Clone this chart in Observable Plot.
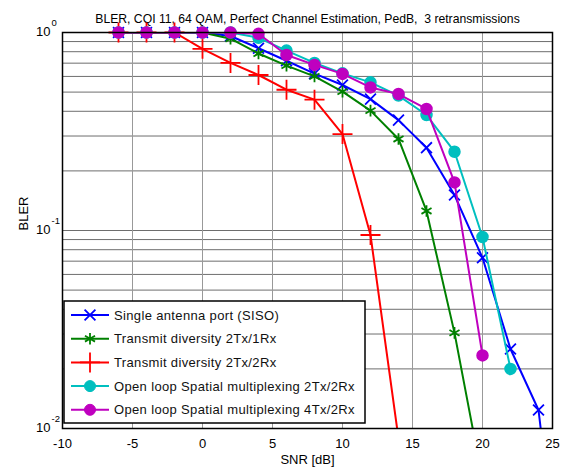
<!DOCTYPE html>
<html>
<head>
<meta charset="utf-8">
<script src="https://cdn.jsdelivr.net/npm/d3@7"></script>
<script src="https://cdn.jsdelivr.net/npm/@observablehq/plot@0.6"></script>
<style>
  html, body { margin: 0; padding: 0; background: #fff; }
  #chart svg { display: block; }
</style>
</head>
<body>
<div id="chart"></div>
<script>
// ---- data ----
const titleText = "BLER, CQI 11, 64 QAM, Perfect Channel Estimation, PedB,  3 retransmissions";
const xLabel = "SNR [dB]";
const yLabel = "BLER";
const xTicks = [-10, -5, 0, 5, 10, 15, 20, 25];
const yDecades = [1, 0.1, 0.01];
const yMinor = [0.02,0.03,0.04,0.05,0.06,0.07,0.08,0.09,0.2,0.3,0.4,0.5,0.6,0.7,0.8,0.9];

const sisoSnr  = [-6, -4, -2, 0, 2, 4, 6, 8, 10, 12, 14, 16, 18, 20, 22, 24, 26];
const sisoBler = [1, 1, 1, 1, 0.96, 0.833, 0.72, 0.62, 0.543, 0.461, 0.361, 0.262, 0.151, 0.0728, 0.0252, 0.0124, 0.0008];

const td21Snr  = [-6, -4, -2, 0, 2, 4, 6, 8, 10, 12, 14, 16, 18, 20];
const td21Bler = [1, 1, 1, 1, 0.93, 0.783, 0.68, 0.60, 0.503, 0.403, 0.29, 0.1255, 0.0304, 0.0055];

const td22Snr  = [-6, -4, -2, 0, 2, 4, 6, 8, 10, 12, 14];
const td22Bler = [1, 1, 1, 0.827, 0.702, 0.61, 0.514, 0.458, 0.307, 0.0949, 0.0089];

const sm22Snr  = [-6, -4, -2, 0, 2, 4, 6, 8, 10, 12, 14, 16, 18, 20, 22];
const sm22Bler = [1, 1, 1, 1, 1, 0.94, 0.81, 0.702, 0.622, 0.56, 0.48, 0.383, 0.25, 0.0927, 0.020];

const sm42Snr  = [-6, -4, -2, 0, 2, 4, 6, 8, 10, 12, 14, 16, 18, 20];
const sm42Bler = [1, 1, 1, 1, 1, 0.985, 0.77, 0.686, 0.618, 0.528, 0.489, 0.411, 0.175, 0.0234];

const seriesNames = [
  "Single antenna port (SISO)",
  "Transmit diversity 2Tx/1Rx",
  "Transmit diversity 2Tx/2Rx",
  "Open loop Spatial multiplexing 2Tx/2Rx",
  "Open loop Spatial multiplexing 4Tx/2Rx"
];
const seriesColors = ["#0000ff", "#008000", "#ff0000", "#00bfbf", "#bf00bf"];
const seriesSymbols = ["times", "asterisk", "plus", "circle", "circle"];

// ---- build table ----
const rawSeries = [
  [sisoSnr, sisoBler], [td21Snr, td21Bler], [td22Snr, td22Bler],
  [sm22Snr, sm22Bler], [sm42Snr, sm42Bler]
];
const series = rawSeries.map(([xs, ys], i) => ({
  name: seriesNames[i], color: seriesColors[i], symbol: seriesSymbols[i],
  data: xs.map((x, j) => ({snr: x, bler: ys[j]}))
}));

const font = "'Liberation Sans', Arial, sans-serif";
const symR = {times: 5, asterisk: 5.5, plus: 6.5, circle: 5.5};
const inView = d => d.snr <= 25 && d.bler >= 0.01;

const marks = [
  Plot.ruleY(yMinor.concat(yDecades), {stroke: "#555", strokeWidth: 1, strokeOpacity: 0.85}),
  Plot.ruleX(xTicks, {stroke: "#999", strokeWidth: 1}),
  Plot.axisX({ticks: xTicks, tickSize: 0, tickPadding: 10, fontSize: 13, label: null, tickFormat: d => String(d)}),
  Plot.axisY({ticks: [], tickSize: 0, label: null}),
  Plot.text(yDecades, {x: -10, y: d => d, text: () => "10", textAnchor: "end", dx: -12, dy: -1, fontSize: 13}),
  Plot.text(yDecades, {x: -10, y: d => d, text: d => String(Math.round(Math.log10(d))), textAnchor: "start", dx: -11, dy: -10, fontSize: 9.5}),
  Plot.text([titleText], {frameAnchor: "top", dy: -18, fontSize: 12.2}),
  Plot.text([xLabel], {frameAnchor: "bottom", dy: 35, fontSize: 13}),
  Plot.text([yLabel], {frameAnchor: "left", dx: -39, rotate: -90, fontSize: 13})
];

series.forEach(s => {
  marks.push(Plot.line(s.data, {x: "snr", y: "bler", stroke: s.color, strokeWidth: 2, clip: true}));
  if (s.symbol === "circle") {
    marks.push(Plot.dot(s.data, {x: "snr", y: "bler", filter: inView, fill: s.color, stroke: s.color, r: symR.circle, symbol: "circle"}));
  } else {
    marks.push(Plot.dot(s.data, {x: "snr", y: "bler", filter: inView, stroke: s.color, strokeWidth: 1.8, r: symR[s.symbol], symbol: s.symbol}));
  }
});

marks.push(Plot.frame({stroke: "#000", strokeWidth: 1.5}));

const chart = Plot.plot({
  width: 569,
  height: 475,
  marginLeft: 62,
  marginRight: 17,
  marginTop: 32,
  marginBottom: 47,
  style: {fontFamily: font, fontSize: "13px", background: "#fff", color: "#000"},
  x: {domain: [-10, 25]},
  y: {type: "log", domain: [0.01, 1]},
  marks
});
document.getElementById("chart").appendChild(chart);

// ---- legend box (MATLAB style, lower-left inside axes) ----
const svg = d3.select(chart);
const lg = svg.append("g").attr("font-family", font).attr("font-size", 13).attr("text-anchor", "start");
const bx = 64, by = 301, bw = 301, bh = 122;
lg.append("rect").attr("x", bx).attr("y", by).attr("width", bw).attr("height", bh)
  .attr("fill", "#fff").attr("stroke", "#000").attr("stroke-width", 1.5);
const symTypes = {times: d3.symbolTimes, asterisk: d3.symbolAsterisk, plus: d3.symbolPlus, circle: d3.symbolCircle};
series.forEach((s, i) => {
  const cy = by + 14 + i * 23.7;
  lg.append("line").attr("x1", bx + 7).attr("x2", bx + 45).attr("y1", cy).attr("y2", cy)
    .attr("stroke", s.color).attr("stroke-width", 2);
  const r = symR[s.symbol];
  const sym = d3.symbol().type(symTypes[s.symbol]).size(Math.PI * r * r);
  const p = lg.append("path").attr("d", sym()).attr("transform", `translate(${bx + 26},${cy})`);
  if (s.symbol === "circle") p.attr("fill", s.color).attr("stroke", s.color);
  else p.attr("fill", "none").attr("stroke", s.color).attr("stroke-width", 1.8);
  lg.append("text").attr("x", bx + 50).attr("y", cy).attr("dy", "0.35em").attr("text-anchor", "start")
    .attr("letter-spacing", "0.35px").attr("fill", "#111").text(s.name);
});
</script>
</body>
</html>
